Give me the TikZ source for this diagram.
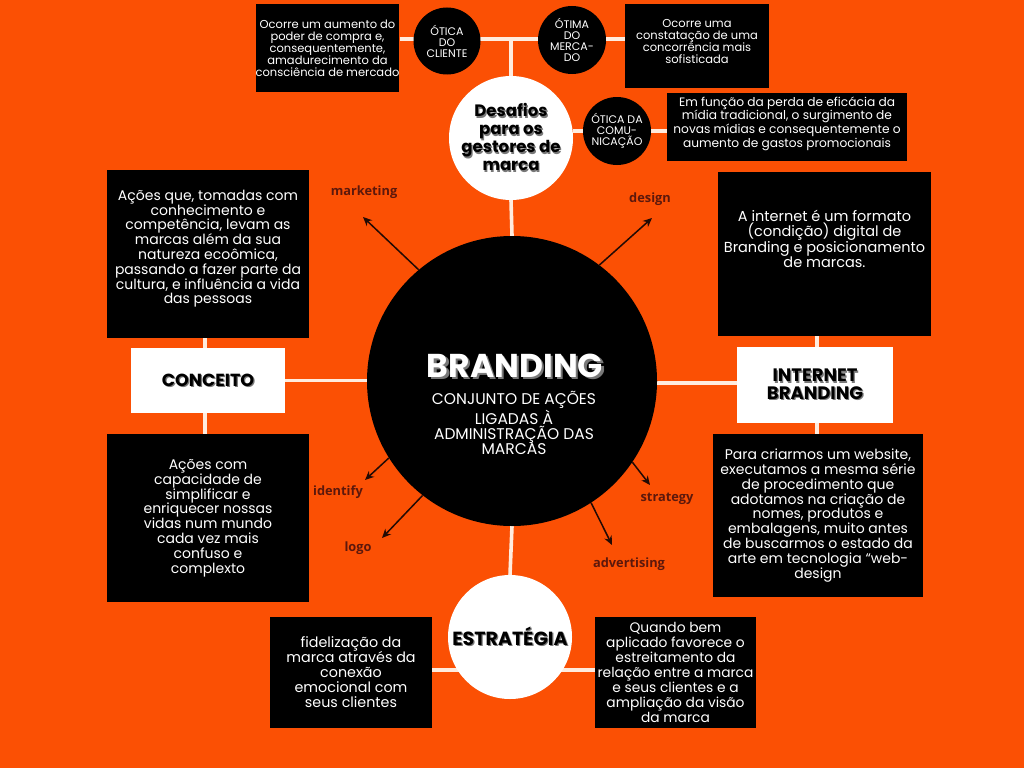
\documentclass[tikz,border=0pt]{standalone}
\usepackage{fontspec}
\setmainfont{Poppins}
\newfontfamily\labfont{Open Sans}
\usetikzlibrary{arrows.meta}
\pgfdeclarelayer{back}
\pgfdeclarelayer{bg}
\pgfsetlayers{back,bg,main}
\definecolor{bgorange}{RGB}{251,80,4}
\definecolor{cream}{RGB}{255,236,222}
\definecolor{labc}{RGB}{92,24,12}
\definecolor{arrc}{RGB}{34,10,4}
\definecolor{shadowc}{RGB}{120,120,120}
\newcommand\shd[2][1.2pt]{\leavevmode\rlap{\kern#1\raisebox{-#1}{\textcolor{shadowc}{#2}}}#2}
\begin{document}
\begin{tikzpicture}[x=1pt,y=-1pt,
  blk/.style={fill=black, text=white, align=center, inner sep=0pt},
  wht/.style={fill=white, text=black, align=center, inner sep=0pt},
  circ/.style={circle, fill=black, text=white, align=center, inner sep=0pt},
  wcirc/.style={circle, fill=white, text=black, align=center, inner sep=0pt},
  big/.style={font=\fontsize{14}{14.8}\selectfont},
  small/.style={font=\fontsize{11.5}{11.9}\selectfont},
  tiny/.style={font=\fontsize{11}{11}\selectfont},
  link/.style={draw=cream, line width=3.6pt},
  arr/.style={draw=arrc, line width=1.5pt, -{Stealth[length=9pt,width=8pt]}},
  lbl/.style={text=labc, inner sep=0pt, font=\labfont\bfseries\fontsize{12.8}{14}\selectfont}]
\begin{pgfonlayer}{back}
\fill[bgorange] (0,0) rectangle (1024,768);
\end{pgfonlayer}
\useasboundingbox (0,0) rectangle (1024,768);

% centre
\node[circ, minimum size=290pt] (C) at (512,381) {};
\node[text=white, font=\bfseries\fontsize{33}{35}\selectfont, inner sep=0pt] (title) at (515,367) {\shd[2.2pt]{BRANDING}};
\node[text=white, align=center, inner sep=0pt, font=\fontsize{15.5}{15.2}\selectfont] (sub) at (514,423) {CONJUNTO DE AÇÕES\\LIGADAS À\\ADMINISTRAÇÃO DAS\\MARCAS};

% top
\node[wcirc, minimum size=124pt, font=\bfseries\fontsize{16.5}{18}\selectfont] (D) at (511,138) {\shd{Desafios}\\\shd{para os}\\\shd{gestores de}\\\shd{marca}};
\node[blk, small, minimum width=143pt, minimum height=88pt] (t1) at (327.5,48) {Ocorre um aumento do\\poder de compra e,\\consequentemente,\\amadurecimento da\\consciência de mercado};
\node[blk, small, minimum width=144pt, minimum height=84pt, text depth=9pt] (t2) at (697,46) {Ocorre uma\\constatação de uma\\concorrência mais\\sofisticada};
\node[blk, font=\fontsize{12.2}{12.3}\selectfont, minimum width=240pt, minimum height=68pt, text depth=10pt] (t3) at (787,127) {Em função da perda de eficácia da\\mídia tradicional, o surgimento de\\novas mídias e consequentemente o\\aumento de gastos promocionais};
\node[circ, tiny, minimum size=67pt] (o1) at (447,41) {ÓTICA\\DO\\CLIENTE};
\node[circ, tiny, minimum size=68pt] (o2) at (572,40) {ÓTIMA\\DO\\MERCA-\\DO};
\node[circ, tiny, minimum size=68pt] (o3) at (617,131) {ÓTICA DA\\COMU-\\NICAÇÃO};
\coordinate (j) at (511,39);

% left
\node[blk, big, minimum width=202pt, minimum height=168pt, text depth=14pt] (l1) at (208,254) {Ações que, tomadas com\\conhecimento e\\competência, levam as\\marcas além da sua\\natureza ecoômica,\\passando a fazer parte da\\cultura, e influência a vida\\das pessoas};
\node[wht, minimum width=154pt, minimum height=65pt, font=\bfseries\fontsize{17.5}{19}\selectfont] (con) at (208,380.5) {\shd{CONCEITO}};
\node[blk, big, minimum width=202pt, minimum height=168pt] (l2) at (208,518) {Ações com\\capacidade de\\simplificar e\\enriquecer nossas\\vidas num mundo\\cada vez mais\\confuso e\\complexto};
\coordinate (vl) at (205,0);

% right
\node[blk, font=\fontsize{14.5}{15.5}\selectfont, minimum width=213pt, minimum height=164pt, text depth=30pt] (r1) at (824.5,254) {A internet é um formato\\(condição) digital de\\Branding e posicionamento\\de marcas.};
\node[wht, minimum width=156pt, minimum height=76pt, font=\bfseries\fontsize{18}{17.5}\selectfont] (ib) at (815,385) {\shd{INTERNET}\\\shd{BRANDING}};
\node[blk, big, minimum width=210pt, minimum height=163pt] (r2) at (818,515.5) {Para criarmos um website,\\executamos a mesma série\\de procedimento que\\adotamos na criação de\\nomes, produtos e\\embalagens, muito antes\\de buscarmos o estado da\\arte em tecnologia “web-\\design};
\coordinate (vr) at (817,0);

% bottom
\node[wcirc, minimum size=124pt, font=\bfseries\fontsize{19}{20}\selectfont] (E) at (510,637) {\shd{ESTRATÉGIA}};
\node[blk, font=\fontsize{14.3}{15}\selectfont, minimum width=162pt, minimum height=111pt] (b1) at (351,672.5) {fidelização da\\marca através da\\conexão\\emocional com\\seus clientes};
\node[blk, font=\fontsize{13.8}{15}\selectfont, minimum width=161pt, minimum height=111pt] (b2) at (675.5,672.5) {Quando bem\\aplicado favorece o\\estreitamento da\\relação entre a marca\\e seus clientes e a\\ampliação da visão\\da marca};
\coordinate (e) at (512,670);

% labels
\node[lbl] (mk) at (364,192) {marketing};
\node[lbl] (dg) at (650,199) {design};
\node[lbl] (idf) at (338,492) {identify};
\node[lbl] (lg) at (358,548) {logo};
\node[lbl] (st) at (667,499) {strategy};
\node[lbl] (ad) at (629,564) {advertising};
\coordinate (amk) at (363,217);
\coordinate (adg) at (652,218);
\coordinate (aid) at (365,480);
\coordinate (alg) at (382,538);
\coordinate (ast) at (650,485);
\coordinate (aad) at (612,545);

\draw[arr] (C.130) -- (amk);
\draw[arr] (C.53) -- (adg);
\draw[arr] (C.212) -- (aid);
\draw[arr] (C.232) -- (alg);
\draw[arr] (C.326) -- (ast);
\draw[arr] (C.303) -- (aad);

\begin{pgfonlayer}{bg}
\draw[link] (t1.east |- j) -- (t2.west |- j);
\draw[link] (j) -- (D.north);
\draw[link] (D.east |- o3) -- (t3.west |- o3);
\draw[link] (D.south) -- (C.north);
\draw[link] (C.south) -- (E.north);
\draw[link] (b1.east |- e) -- (b2.west |- e);
\draw[link] (con.east) -- (C.west |- con.east);
\draw[link] (C.east |- 0,383) -- (ib.west |- 0,383);
\draw[link] (l1.south -| vl) -- (l2.north -| vl);
\draw[link] (r1.south -| vr) -- (r2.north -| vr);
\end{pgfonlayer}
\end{tikzpicture}
\end{document}
